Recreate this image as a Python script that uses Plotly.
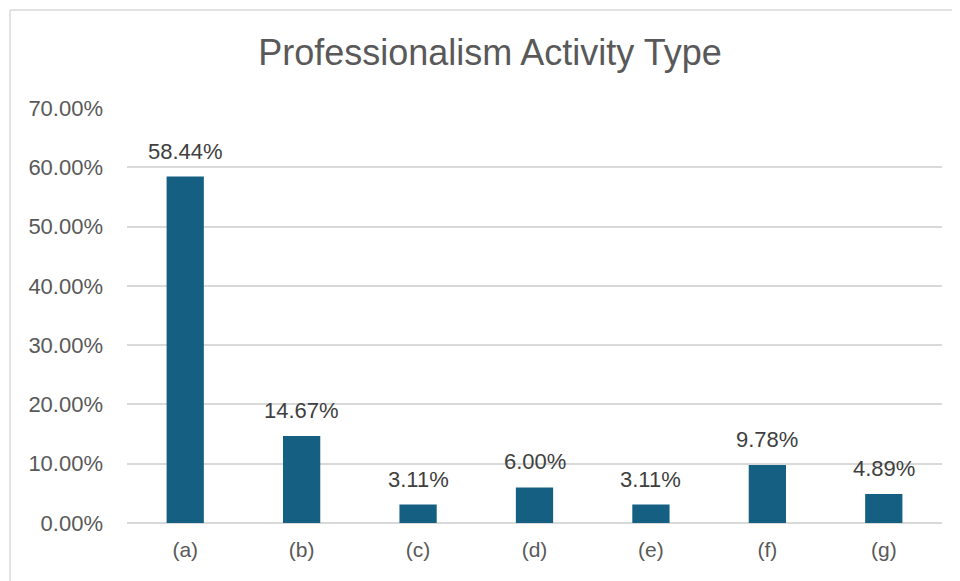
import plotly.graph_objects as go

categories = ["(a)", "(b)", "(c)", "(d)", "(e)", "(f)", "(g)"]
values = [0.5844, 0.1467, 0.0311, 0.0600, 0.0311, 0.0978, 0.0489]
tick_vals = [0, 0.1, 0.2, 0.3, 0.4, 0.5, 0.6, 0.7]
tick_text = ["0.00%", "10.00%", "20.00%", "30.00%", "40.00%", "50.00%", "60.00%", "70.00%"]
labels = [f"{v*100:.2f}%" for v in values]

FONT = "Liberation Sans, Arial, sans-serif"

W, H = 952, 573
L, R, T, B = 119, 18, 100, 58
PH = H - T - B
PW = W - L - R

fig = go.Figure(go.Bar(
    x=categories, y=values,
    marker=dict(color="#156082", line=dict(width=0)), cliponaxis=False,
))

for c, v, t in zip(categories, values, labels):
    fig.add_annotation(x=c, y=v, text=t, showarrow=False, yanchor="bottom",
                       xanchor="center", yshift=11,
                       font=dict(family=FONT, size=22, color="#404040"))

fig.update_layout(
    width=W, height=H,
    margin=dict(l=L, r=R, t=T, b=B),
    paper_bgcolor="white", plot_bgcolor="white",
    bargap=0.68,
    showlegend=False,
    title=dict(text="Professionalism Activity Type", x=482 / W, xanchor="center",
               y=1 - 44 / H, yref="container", yanchor="middle",
               font=dict(family=FONT, size=36, color="#595959")),
    xaxis=dict(showgrid=False, showline=False, ticks="", ticklabelstandoff=12,
               tickfont=dict(family=FONT, size=21, color="#595959")),
    yaxis=dict(range=[0, 0.70001], tickvals=tick_vals, ticktext=tick_text,
               showgrid=True, gridcolor="#d9d9d9", gridwidth=1.5,
               zeroline=True, zerolinecolor="#d9d9d9", zerolinewidth=1.5,
               showline=False, ticks="", ticklabelstandoff=23,
               tickfont=dict(family=FONT, size=22, color="#595959")),
)

top = (H - B - 2) / PH
left = (2 - L) / PW
fig.add_shape(type="line", xref="paper", yref="paper",
              x0=left, x1=1.2, y0=top, y1=top,
              line=dict(color="#d9d9d9", width=1.5))
fig.add_shape(type="line", xref="paper", yref="paper",
              x0=left, x1=left, y0=-0.3, y1=top,
              line=dict(color="#d9d9d9", width=1.5))

fig.write_html("out.html")
